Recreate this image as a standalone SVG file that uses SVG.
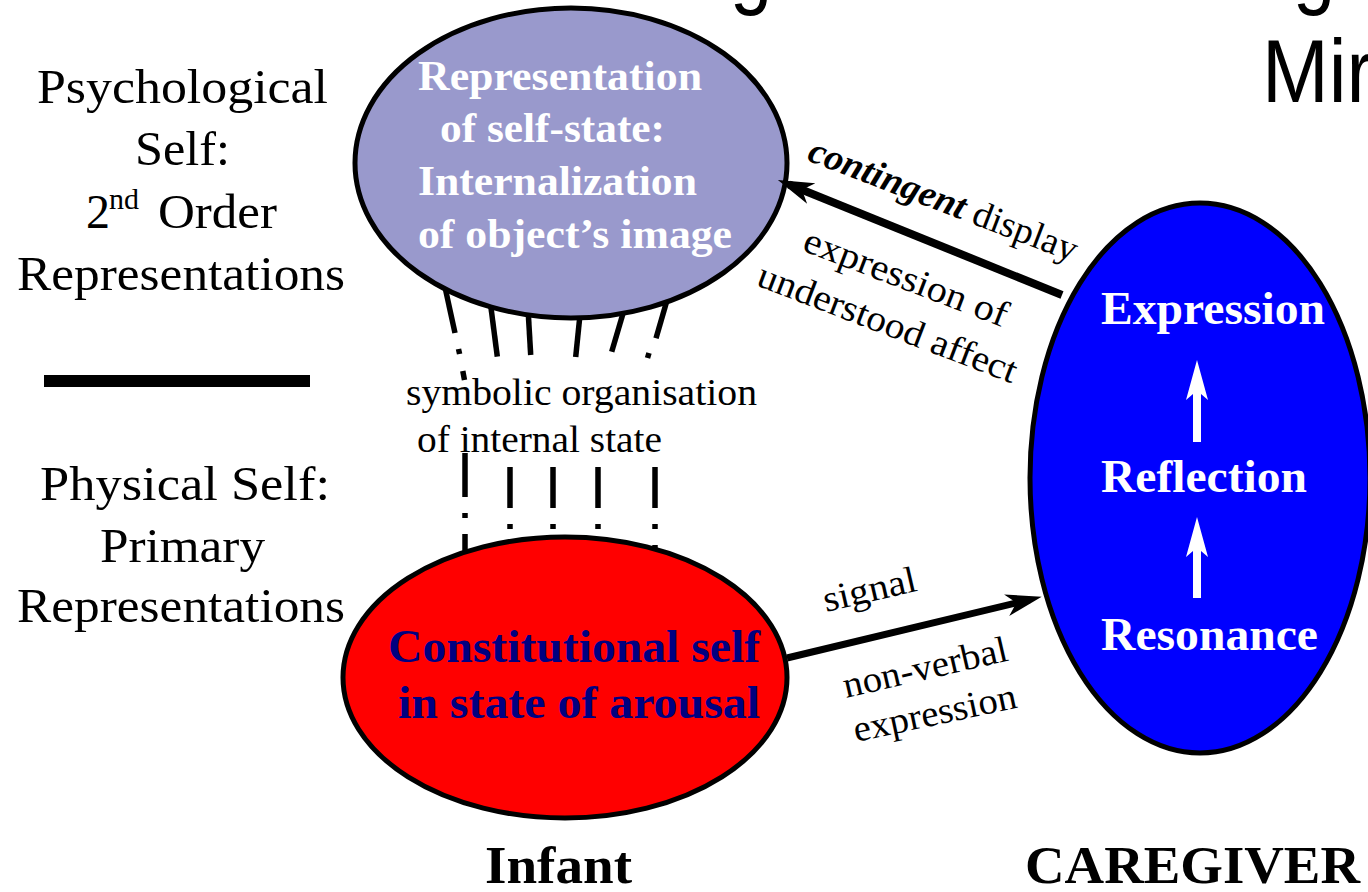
<svg xmlns="http://www.w3.org/2000/svg" width="1368" height="892" viewBox="0 0 1368 892">
<defs>
<style>
.serif{font-family:"Liberation Serif","Times New Roman",serif;}
.lbl{font-family:"Liberation Serif","Times New Roman",serif;font-size:48px;fill:#000;}
.inw{font-family:"Liberation Serif","Times New Roman",serif;font-weight:bold;fill:#fff;}
.edge{font-family:"Liberation Serif","Times New Roman",serif;font-size:37px;fill:#000;}
.title{font-family:"Liberation Sans",Arial,sans-serif;font-size:89px;fill:#000;}
.dash{stroke:#000;stroke-width:5.5;fill:none;}
.node{stroke:#000;stroke-width:5;}
.conn{stroke:#000;fill:none;}
</style>
<marker id="ah" markerUnits="userSpaceOnUse" markerWidth="60" markerHeight="40" viewBox="-40 -20 60 40" refX="0" refY="0" orient="auto">
<path d="M12,0 L-24,-11 L-14,0 L-24,11 Z" fill="#000"/>
</marker>
</defs>
<rect width="1368" height="892" fill="#fff"/>

<g id="title">
<text class="title" transform="translate(730,-3) scale(0.85,1)">g</text>
<text class="title" transform="translate(1293,-3) scale(0.85,1)">g</text>
<text class="title" transform="translate(1262,102) scale(0.9,1)">Mir</text>
</g>

<g id="level-labels">
<text class="lbl" x="37" y="103" textLength="291" lengthAdjust="spacingAndGlyphs">Psychological</text>
<text class="lbl" x="135" y="165" textLength="95" lengthAdjust="spacingAndGlyphs">Self:</text>
<text class="lbl" y="228"><tspan x="86">2</tspan><tspan x="109" font-size="30" dy="-19">nd</tspan><tspan x="158" dy="19" textLength="119" lengthAdjust="spacingAndGlyphs">Order</tspan></text>
<text class="lbl" x="17" y="290" textLength="328" lengthAdjust="spacingAndGlyphs">Representations</text>
<rect x="44" y="375" width="266" height="12" fill="#000"/>
<text class="lbl" x="40" y="500" textLength="290" lengthAdjust="spacingAndGlyphs">Physical Self:</text>
<text class="lbl" x="100" y="562" textLength="165" lengthAdjust="spacingAndGlyphs">Primary</text>
<text class="lbl" x="17" y="622" textLength="328" lengthAdjust="spacingAndGlyphs">Representations</text>
</g>

<g id="connectors">
<line class="dash" x1="443" y1="278" x2="455" y2="333"/>
<line class="dash" x1="458.5" y1="349" x2="459.6" y2="354"/>
<line class="dash" x1="462.8" y1="371" x2="464.5" y2="380"/>
<line class="dash" x1="490" y1="300" x2="497.3" y2="356.7"/>
<line class="dash" x1="527.5" y1="300" x2="530.7" y2="355"/>
<line class="dash" x1="581.5" y1="300" x2="575.7" y2="357"/>
<line class="dash" x1="627" y1="300" x2="611.7" y2="351.7"/>
<line class="dash" x1="670" y1="290" x2="656" y2="338.3"/>
<line class="dash" x1="649" y1="353" x2="647.5" y2="358"/>
<line class="dash" x1="465" y1="453" x2="465" y2="497"/>
<line class="dash" x1="465" y1="513" x2="465" y2="518"/>
<line class="dash" x1="465" y1="534" x2="465" y2="570"/>
<line class="dash" x1="510" y1="467" x2="510" y2="508"/>
<line class="dash" x1="510" y1="524" x2="510" y2="529"/>
<line class="dash" x1="553" y1="467" x2="553" y2="508"/>
<line class="dash" x1="553" y1="524" x2="553" y2="529"/>
<line class="dash" x1="598" y1="467" x2="598" y2="508"/>
<line class="dash" x1="598" y1="524" x2="598" y2="529"/>
<line class="dash" x1="655" y1="467" x2="655" y2="508"/>
<line class="dash" x1="655" y1="524" x2="655" y2="529"/>
<line class="dash" x1="655" y1="545" x2="655" y2="575"/>
</g>

<g id="node-representation">
<ellipse class="node" cx="571" cy="163" rx="216" ry="155" fill="#9999CC"/>
<text class="inw" font-size="42" x="418" y="90" textLength="284" lengthAdjust="spacingAndGlyphs">Representation</text>
<text class="inw" font-size="42" x="440" y="142" textLength="225" lengthAdjust="spacingAndGlyphs">of self-state:</text>
<text class="inw" font-size="42" x="418" y="195" textLength="279" lengthAdjust="spacingAndGlyphs">Internalization</text>
<text class="inw" font-size="42" x="418" y="248" textLength="314" lengthAdjust="spacingAndGlyphs">of object’s image</text>
</g>

<g id="node-constitutional">
<ellipse class="node" cx="565" cy="677.5" rx="222" ry="140.5" fill="#FF0000"/>
<text class="serif" font-weight="bold" font-size="47" fill="#000080" x="388" y="662" textLength="372" lengthAdjust="spacingAndGlyphs">Constitutional self</text>
<text class="serif" font-weight="bold" font-size="47" fill="#000080" x="398" y="718" textLength="362" lengthAdjust="spacingAndGlyphs">in state of arousal</text>
</g>

<g id="node-caregiver">
<ellipse class="node" cx="1200" cy="478" rx="170" ry="275" fill="#0000FF"/>
<text class="inw" font-size="47" x="1101" y="324" textLength="224" lengthAdjust="spacingAndGlyphs">Expression</text>
<text class="inw" font-size="47" x="1101" y="492" textLength="206" lengthAdjust="spacingAndGlyphs">Reflection</text>
<text class="inw" font-size="47" x="1101" y="650" textLength="217" lengthAdjust="spacingAndGlyphs">Resonance</text>
<path d="M1197,360 L1208,400 L1201,394 L1201,442 L1193,442 L1193,394 L1186,400 Z" fill="#fff"/>
<path d="M1197,517 L1208,557 L1201,551 L1201,598 L1193,598 L1193,551 L1186,557 Z" fill="#fff"/>
</g>

<g id="arrows">
<line class="conn" stroke-width="8" x1="1062" y1="295" x2="789" y2="184.5" marker-end="url(#ah)"/>
<line class="conn" stroke-width="7" x1="787" y1="658" x2="1030" y2="599.6" marker-end="url(#ah)"/>
</g>

<g id="edge-labels">
<text class="edge" transform="translate(806,160) rotate(21)" textLength="285" lengthAdjust="spacingAndGlyphs"><tspan font-weight="bold" font-style="italic">contingent</tspan> display</text>
<text class="edge" transform="translate(801,250) rotate(21)" textLength="216" lengthAdjust="spacingAndGlyphs">expression of</text>
<text class="edge" transform="translate(755,285) rotate(21)" textLength="275" lengthAdjust="spacingAndGlyphs">understood affect</text>
<text class="edge" transform="translate(826,612) rotate(-13)" textLength="95" lengthAdjust="spacingAndGlyphs">signal</text>
<text class="edge" transform="translate(846,698) rotate(-13)" textLength="168" lengthAdjust="spacingAndGlyphs">non-verbal</text>
<text class="edge" transform="translate(856,742) rotate(-12)" textLength="166" lengthAdjust="spacingAndGlyphs">expression</text>
<text class="edge" x="406" y="405" font-size="39" textLength="351" lengthAdjust="spacingAndGlyphs">symbolic organisation</text>
<text class="edge" x="417" y="452" font-size="39" textLength="245" lengthAdjust="spacingAndGlyphs">of internal state</text>
</g>

<g id="column-labels">
<text class="serif" font-weight="bold" font-size="53" x="485" y="883" textLength="147" lengthAdjust="spacingAndGlyphs">Infant</text>
<text class="serif" font-weight="bold" font-size="53" x="1025" y="883" textLength="335" lengthAdjust="spacingAndGlyphs">CAREGIVER</text>
</g>
</svg>
